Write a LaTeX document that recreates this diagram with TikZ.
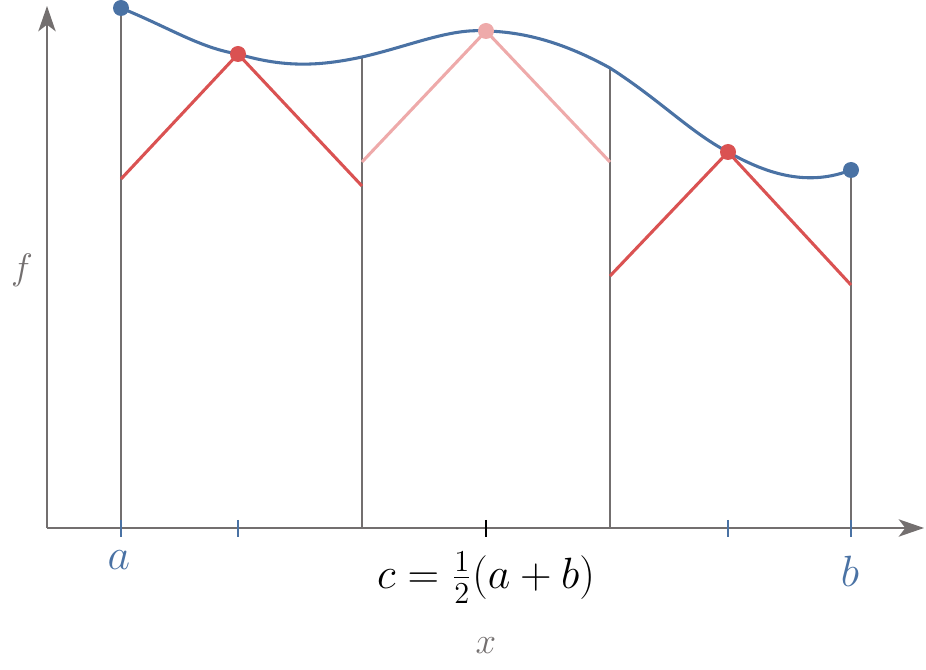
\documentclass[tikz,border=0pt]{standalone}
\usetikzlibrary{arrows.meta}
\definecolor{cblue}{HTML}{4A72A4}
\definecolor{cred}{HTML}{DA5252}
\definecolor{cpink}{HTML}{EEAAAA}
\definecolor{cgray}{HTML}{736F6F}
\begin{document}
\begin{tikzpicture}[x=0.75pt,y=-0.75pt,
  axis/.style={cgray,line width=1.5pt,-{Stealth[length=19pt,width=13pt,inset=5pt]}},
  vline/.style={cgray,line width=0.9pt},
  curve/.style={cblue,line width=2.3pt},
  redline/.style={cred,line width=2.3pt},
  pinkline/.style={cpink,line width=2.3pt},
  dot/.style={circle,inner sep=0pt,minimum size=12pt,fill=#1},
  tick/.style={line width=1.3pt,#1},
  lbl/.style={inner sep=0pt,font=\LARGE,scale=1.9,transform shape},
  axlbl/.style={inner sep=0pt,text=cgray,font=\LARGE,scale=1.6,transform shape}]
\useasboundingbox (0,0) rectangle (926,670);
% axes
\coordinate (O) at (47,528);
\coordinate (Ytip) at (47,6);
\coordinate (Xtip) at (924,528);
\draw[axis] (O) -- (Ytip);
\draw[axis] (O) -- (Xtip);
% points on curve
\coordinate (P0) at (121,8);
\coordinate (P1) at (238,54);
\coordinate (P2) at (362,57);
\coordinate (P3) at (486,31);
\coordinate (P4) at (610,68);
\coordinate (P5) at (728,152);
\coordinate (P6) at (851,170);
% foot points
\coordinate (B0) at (121,528);
\coordinate (B2) at (362,528);
\coordinate (B4) at (610,528);
\coordinate (B6) at (851,528);
% vertical lines
\draw[vline] (P0) -- (B0);
\draw[vline] (P2) -- (B2);
\draw[vline] (P4) -- (B4);
\draw[vline] (P6) -- (B6);
% ticks
\draw[tick=cblue] (121,520) -- (121,537);
\draw[tick=cblue] (238,520) -- (238,537);
\draw[tick=black] (486,520) -- (486,537);
\draw[tick=cblue] (728,520) -- (728,537);
\draw[tick=cblue] (851,520) -- (851,537);
% curve
\draw[curve] (P0) .. controls (170,28) and (200,48) .. (P1)
  .. controls (285,68) and (320,66) .. (P2)
  .. controls (410,46) and (450,28) .. (P3)
  .. controls (530,32) and (570,46) .. (P4)
  .. controls (660,100) and (690,132) .. (P5)
  .. controls (770,176) and (810,186) .. (P6);
% tangent-like lines
\coordinate (R0) at (121,179);
\coordinate (R1) at (362,186);
\coordinate (K0) at (362,162);
\coordinate (K1) at (610,162);
\coordinate (S0) at (610,276);
\coordinate (S1) at (851,285);
\draw[redline] (R0) -- (P1) -- (R1);
\draw[pinkline] (K0) -- (P3) -- (K1);
\draw[redline] (S0) -- (P5) -- (S1);
% dots
\node[dot=cblue] (d0) at (P0) {};
\node[dot=cred] (d1) at (P1) {};
\node[dot=cpink] (d3) at (P3) {};
\node[dot=cred] (d5) at (P5) {};
\node[dot=cblue] (d6) at (P6) {};
% labels
\node[lbl,text=cblue] (la) at (119,560) {$a$};
\node[lbl,text=cblue] (lb) at (850,571) {$b$};
\node[lbl] (lc) at (486,578) {$c={\textstyle\frac{1}{2}}(a+b)$};
\node[axlbl] (lx) at (486,646) {$x$};
\node[axlbl] (lf) at (22,270) {$f$};
\end{tikzpicture}
\end{document}
